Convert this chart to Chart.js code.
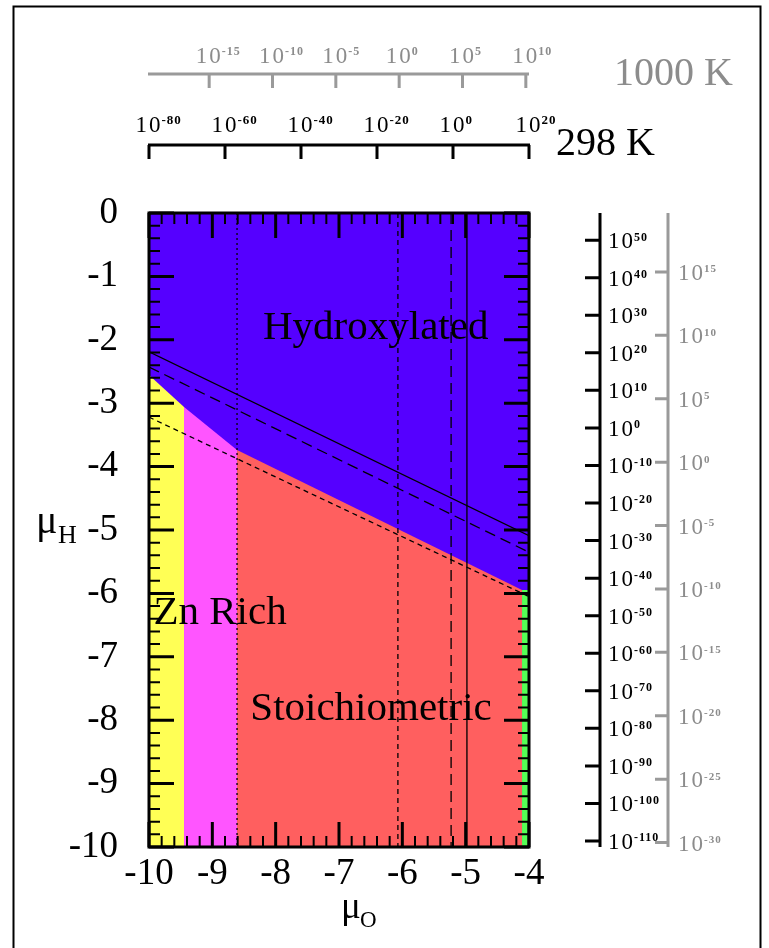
<!DOCTYPE html>
<html>
<head>
<meta charset="utf-8">
<script src="https://cdn.jsdelivr.net/npm/chart.js@4.4.1/dist/chart.umd.min.js"></script>
<style>
  html, body { margin: 0; background: #fff; }
  canvas { display: block; }
</style>
</head>
<body>
<canvas id="chart" width="769" height="948"></canvas>
<script>
// ── phase boundaries, (μO, μH) in eV ──────────────────────────
const blueTop    = [{x:-10, y:0}, {x:-4, y:0}];
const yellowTop  = [{x:-10, y:-2.555}, {x:-9.447, y:-3.06}];
const pinkTop    = [{x:-9.447, y:-3.06}, {x:-8.61, y:-3.74}];
const redTop     = [{x:-8.61, y:-3.74}, {x:-4.11, y:-5.946}];
const greenTop   = [{x:-4.11, y:-5.946}, {x:-4, y:-5.946}];

// diagonal lines (μH limits) and vertical lines (μO limits)
const lineSolid  = [{x:-10, y:-2.19}, {x:-4, y:-5.09}];
const lineLong   = [{x:-10, y:-2.43}, {x:-4, y:-5.35}];
const lineShort  = [{x:-10, y:-3.22}, {x:-4, y:-6.05}];
const vDotted    = -8.61;
const vShort     = -6.07;
const vLong      = -5.23;
const vSolid     = -4.98;

// ── auxiliary pressure axes (exponents of 10) ─────────────────
const top298Exp   = [-80, -60, -40, -20, 0, 20];
const top1000Exp  = [-15, -10, -5, 0, 5, 10];
const right298Exp = [50, 40, 30, 20, 10, 0, -10, -20, -30, -40, -50, -60, -70, -80, -90, -100, -110];
const right1000Exp = [15, 10, 5, 0, -5, -10, -15, -20, -25, -30];

// exponent -> chemical potential
const o298  = e => -5.2  + 0.06 * e;
const o1000 = e => -6.05 + 0.2 * e;
const h298  = e => -3.39 + 0.05923 * e;
const h1000 = e => -3.93 + 0.2 * e;

const regionLabels = [
  { text: 'Hydroxylated',   o: -8.2,  h: -1.98 },
  { text: 'Zn Rich',        o: -9.93, h: -6.49 },
  { text: 'Stoichiometric', o: -8.4,  h: -7.99 }
];

const SERIF = '"Liberation Serif", "Times New Roman", serif';
const GREY = '#8c8c8c';

function vLine(o) { return [{x:o, y:0}, {x:o, y:-10}]; }

function area(data, color) {
  return { data, fill: 'start', backgroundColor: color, borderWidth: 0, pointRadius: 0 };
}
function stroke(data, dash, width) {
  return { data, fill: false, borderColor: '#000', borderWidth: width || 1.3, borderDash: dash, pointRadius: 0 };
}

// "10" with a superscript exponent
function pow10(ctx, exp, x, base, big, small, align) {
  ctx.font = big + 'px ' + SERIF;
  ctx.letterSpacing = '2px';
  const w = ctx.measureText('10').width;
  const left = align === 'center' ? x - w / 2 : x;
  ctx.textAlign = 'left';
  ctx.textBaseline = 'alphabetic';
  ctx.fillText('10', left, base);
  ctx.letterSpacing = '1px';
  ctx.font = 'bold ' + small + 'px ' + SERIF;
  ctx.fillText(String(exp), left + w - 1, base - big * 0.33);
  ctx.letterSpacing = '0px';
}

const decor = {
  id: 'decor',
  afterDatasetsDraw(chart) {
    const { ctx, chartArea: a, scales: { x, y } } = chart;
    ctx.save();

    ctx.fillStyle = '#000';
    ctx.font = '41px ' + SERIF;
    ctx.textAlign = 'left';
    ctx.textBaseline = 'alphabetic';
    regionLabels.forEach(l => ctx.fillText(l.text, x.getPixelForValue(l.o), y.getPixelForValue(l.h)));

    // inner ticks on all four sides
    ctx.strokeStyle = '#000';
    for (let i = 0; i <= 30; i++) {
      const px = x.getPixelForValue(-10 + i * 0.2);
      const len = i % 5 === 0 ? 25 : 11;
      ctx.lineWidth = i % 5 === 0 ? 3 : 2;
      ctx.beginPath();
      ctx.moveTo(px, a.bottom); ctx.lineTo(px, a.bottom - len);
      ctx.moveTo(px, a.top); ctx.lineTo(px, a.top + len);
      ctx.stroke();
    }
    for (let i = 0; i <= 50; i++) {
      const py = y.getPixelForValue(-10 + i * 0.2);
      const len = i % 5 === 0 ? 25 : 11;
      ctx.lineWidth = i % 5 === 0 ? 3 : 2;
      ctx.beginPath();
      ctx.moveTo(a.left, py); ctx.lineTo(a.left + len, py);
      ctx.moveTo(a.right, py); ctx.lineTo(a.right - len, py);
      ctx.stroke();
    }

    ctx.lineWidth = 3;
    ctx.strokeRect(a.left, a.top, a.right - a.left, a.bottom - a.top);
    ctx.restore();
  },
  afterDraw(chart) {
    const { ctx, chartArea: a, scales: { x, y } } = chart;
    ctx.save();

    // outer frame
    ctx.strokeStyle = '#000';
    ctx.lineWidth = 2;
    ctx.strokeRect(13.5, 6.5, 747, 960);

    // 298 K oxygen axis (top, black)
    ctx.strokeStyle = '#000'; ctx.fillStyle = '#000'; ctx.lineWidth = 3;
    ctx.beginPath();
    ctx.moveTo(x.getPixelForValue(-10) - 1, 145); ctx.lineTo(x.getPixelForValue(-4) + 1, 145);
    top298Exp.forEach(e => { const px = x.getPixelForValue(o298(e)); ctx.moveTo(px, 145); ctx.lineTo(px, 159); });
    ctx.stroke();
    top298Exp.forEach(e => pow10(ctx, e, x.getPixelForValue(o298(e)), 132, 23, 13, 'center'));
    ctx.font = '40px ' + SERIF; ctx.textAlign = 'left';
    ctx.fillText('298 K', 556, 155);

    // 1000 K oxygen axis (top, grey)
    ctx.strokeStyle = '#9a9a9a'; ctx.fillStyle = GREY;
    ctx.beginPath();
    ctx.moveTo(x.getPixelForValue(-10) - 1, 74); ctx.lineTo(x.getPixelForValue(-4), 74);
    top1000Exp.forEach(e => { const px = x.getPixelForValue(o1000(e)); ctx.moveTo(px, 74); ctx.lineTo(px, 88); });
    ctx.stroke();
    top1000Exp.forEach(e => pow10(ctx, e, x.getPixelForValue(o1000(e)), 63, 23, 12, 'center'));
    ctx.font = '40px ' + SERIF; ctx.textAlign = 'left';
    ctx.fillText('1000 K', 614, 85);

    // 298 K hydrogen axis (right, black)
    ctx.strokeStyle = '#000'; ctx.fillStyle = '#000';
    ctx.beginPath();
    ctx.moveTo(600, a.top); ctx.lineTo(600, a.bottom);
    right298Exp.forEach(e => { const py = y.getPixelForValue(h298(e)); ctx.moveTo(585, py); ctx.lineTo(600, py); });
    ctx.stroke();
    right298Exp.forEach(e => pow10(ctx, e, 608, y.getPixelForValue(h298(e)) + 8, 23, 12, 'left'));

    // 1000 K hydrogen axis (right, grey)
    ctx.strokeStyle = '#9a9a9a'; ctx.fillStyle = GREY;
    ctx.beginPath();
    ctx.moveTo(668, a.top); ctx.lineTo(668, a.bottom);
    right1000Exp.forEach(e => { const py = y.getPixelForValue(h1000(e)); ctx.moveTo(655, py); ctx.lineTo(668, py); });
    ctx.stroke();
    right1000Exp.forEach(e => pow10(ctx, e, 678, y.getPixelForValue(h1000(e)) + 8, 23, 11, 'left'));

    // axis titles
    ctx.fillStyle = '#000'; ctx.textAlign = 'left'; ctx.textBaseline = 'alphabetic';
    ctx.font = '40px ' + SERIF; ctx.fillText('μ', 36, 533);
    ctx.font = '26px ' + SERIF; ctx.fillText('H', 58, 543);
    ctx.font = '37px ' + SERIF; ctx.fillText('μ', 341, 918);
    ctx.font = '23px ' + SERIF; ctx.fillText('O', 360, 927);

    ctx.restore();
  }
};

new Chart(document.getElementById('chart'), {
  type: 'line',
  data: {
    datasets: [
      stroke(lineSolid, []),
      stroke(lineLong, [11, 6]),
      stroke(lineShort, [5, 4]),
      stroke(vLine(vDotted), [2, 3]),
      stroke(vLine(vShort), [5, 4]),
      stroke(vLine(vLong), [11, 6]),
      stroke(vLine(vSolid), []),
      area(greenTop, '#55ff55'),
      area(redTop, '#ff5f5f'),
      area(pinkTop, '#ff55ff'),
      area(yellowTop, '#ffff55'),
      area(blueTop, '#5500ff')
    ]
  },
  options: {
    responsive: false,
    animation: false,
    events: [],
    layout: { padding: { left: 29, right: 240, top: 213, bottom: 41 } },
    plugins: { legend: { display: false }, tooltip: { enabled: false } },
    elements: { line: { tension: 0 } },
    scales: {
      x: {
        type: 'linear', min: -10, max: -4,
        afterFit: s => { s.height = 60; },
        grid: { display: false, drawTicks: false },
        border: { display: false },
        ticks: { stepSize: 1, padding: 5, color: '#000', font: { family: SERIF, size: 37 }, callback: v => String(v) }
      },
      y: {
        type: 'linear', min: -10, max: 0,
        afterFit: s => { s.width = 120; },
        grid: { display: false, drawTicks: false },
        border: { display: false },
        ticks: { stepSize: 1, padding: 31, color: '#000', font: { family: SERIF, size: 37 }, callback: v => String(v) }
      }
    }
  },
  plugins: [decor]
});
</script>
</body>
</html>
